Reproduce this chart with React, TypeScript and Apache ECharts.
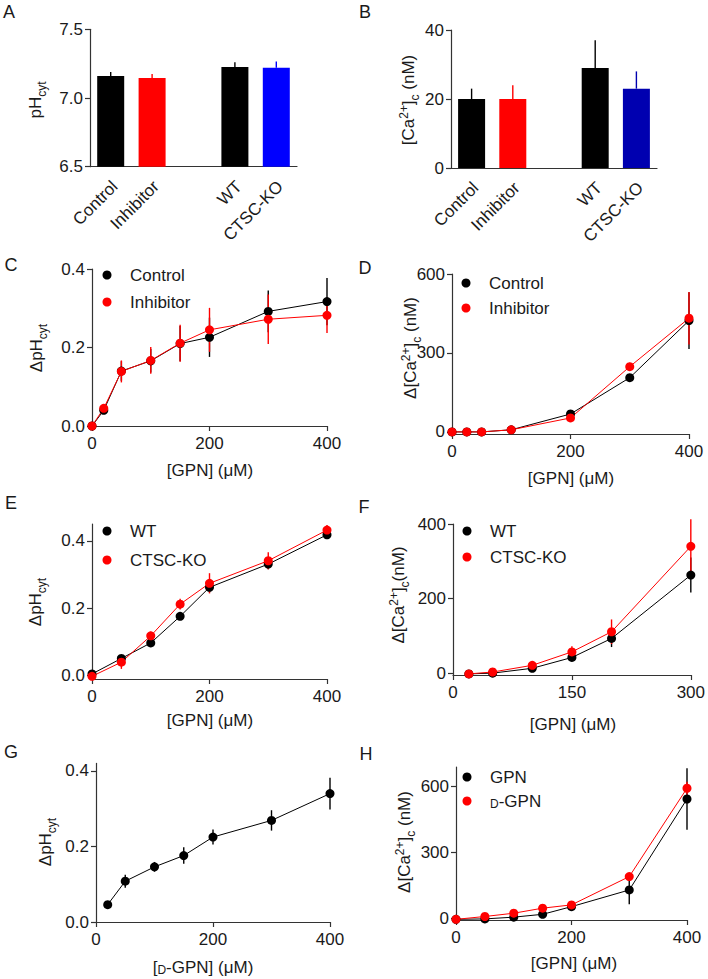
import React, { useEffect, useRef } from 'react';
import * as echarts from 'echarts';

// ---------------- data ----------------
// Panels A & B (bar charts)
const barCategories = ['Control', 'Inhibitor', '', 'WT', 'CTSC-KO'];
const phMean = [7.16, 7.145, null, 7.225, 7.22];
const phSem = [0.03, 0.03, null, 0.035, 0.045];
const caMean = [20, 20, null, 29, 23];
const caSem = [3, 4, null, 8, 5];
const phTicks = [6.5, 7.0, 7.5];
const caTicks = [0, 20, 40];

// Panel C
const gpnC = [0, 20, 50, 100, 150, 200, 300, 400];
const cControl = [0, 0.04, 0.14, 0.166, 0.21, 0.226, 0.292, 0.317];
const cControlSem = [0, 0.008, 0.025, 0.03, 0.045, 0.05, 0.053, 0.06];
const cInhibitor = [0, 0.045, 0.139, 0.167, 0.211, 0.245, 0.272, 0.282];
const cInhibitorSem = [0, 0.006, 0.028, 0.034, 0.047, 0.056, 0.063, 0.045];

// Panel D
const gpnD = [0, 25, 50, 100, 200, 300, 400];
const dControl = [0, 0, 0, 8, 68, 206, 423];
const dControlSem = [0, 0, 0, 3, 8, 10, 108];
const dInhibitor = [0, 0, 0, 8, 53, 248, 432];
const dInhibitorSem = [0, 0, 0, 3, 8, 15, 100];

// Panel E
const gpnE = [0, 50, 100, 150, 200, 300, 400];
const eWT = [0.005, 0.051, 0.097, 0.176, 0.262, 0.331, 0.418];
const eWTSem = [0.005, 0.01, 0.01, 0.01, 0.015, 0.015, 0.012];
const eKO = [-0.002, 0.04, 0.118, 0.212, 0.274, 0.341, 0.432];
const eKOSem = [0.005, 0.02, 0.012, 0.016, 0.03, 0.025, 0.015];

// Panel F
const gpnF = [20, 50, 100, 150, 200, 300];
const fWT = [-2, 0, 13, 42, 93, 263];
const fWTSem = [2, 3, 5, 8, 23, 47];
const fKO = [-2, 3, 21, 57, 111, 340];
const fKOSem = [2, 4, 6, 15, 33, 73];

// Panel G
const dgpnG = [20, 50, 100, 150, 200, 300, 400];
const gDGPN = [0.046, 0.108, 0.146, 0.176, 0.225, 0.269, 0.34];
const gDGPNSem = [0.005, 0.017, 0.013, 0.022, 0.02, 0.027, 0.042];

// Panel H
const gpnH = [0, 50, 100, 150, 200, 300, 400];
const hGPN = [-5, -3, 5, 18, 53, 129, 544];
const hGPNSem = [3, 5, 5, 8, 10, 65, 140];
const hDGPN = [-5, 8, 23, 46, 61, 190, 593];
const hDGPNSem = [3, 5, 6, 8, 10, 15, 30];

// tick values
const ph01Ticks = [0, 0.2, 0.4];
const ca600Ticks = [0, 300, 600];
const ca400Ticks = [0, 200, 400];

// ---------------- styles ----------------
const FONT = '"Liberation Sans", Arial, Helvetica, sans-serif';
const INK = '#1a1a1a';
const AXIS = '#333333';
const RED = '#ff0000';
const BLACK = '#000000';
const BLUE_A = '#0000ff';
const BLUE_B = '#0000b0';
const barColorsA = [BLACK, RED, BLACK, BLACK, BLUE_A];
const barColorsB = [BLACK, RED, BLACK, BLACK, BLUE_B];

const axisLine = { show: true, onZero: false, lineStyle: { color: AXIS, width: 1.2 } };
const labelStyle = { color: INK, fontSize: 17, fontFamily: FONT };

function tick(vals?: number[]) {
  const t: any = { show: true, inside: false, length: 5, lineStyle: { color: AXIS, width: 1.2 } };
  if (vals) t.customValues = vals;
  return t;
}

function valueX(gi: number, min: number, max: number, interval: number) {
  return {
    gridIndex: gi, type: 'value', min, max, interval,
    axisLine, axisTick: tick(), splitLine: { show: false },
    axisLabel: { ...labelStyle, margin: 9 },
  };
}

function valueY(gi: number, min: number, max: number, ticks: number[], dec: number) {
  return {
    gridIndex: gi, type: 'value', min, max,
    axisLine, axisTick: tick(ticks), splitLine: { show: false },
    axisLabel: { ...labelStyle, margin: 7, customValues: ticks, formatter: (v: number) => v.toFixed(dec) },
  };
}

function catX(gi: number) {
  return {
    gridIndex: gi, type: 'category', data: barCategories,
    axisLine, axisTick: { show: false }, splitLine: { show: false },
    axisLabel: { show: false },
  };
}

function errSeries(gi: number, xs: number[], ys: number[], sem: number[], color: string) {
  return {
    type: 'custom', xAxisIndex: gi, yAxisIndex: gi, silent: true, z: 2,
    data: xs.map((x, i) => [x, ys[i], sem[i]]),
    encode: { x: 0, y: 1 },
    renderItem: (_p: any, api: any) => {
      const x = api.value(0), y = api.value(1), e = api.value(2);
      const a = api.coord([x, y - e]);
      const b = api.coord([x, y + e]);
      return { type: 'line', shape: { x1: a[0], y1: a[1], x2: b[0], y2: b[1] }, style: { stroke: color, lineWidth: 1.4 } };
    },
  };
}

function lineSeries(gi: number, name: string, xs: number[], ys: number[], color: string) {
  return {
    type: 'line', name, xAxisIndex: gi, yAxisIndex: gi, z: 2,
    data: xs.map((x, i) => [x, ys[i]]),
    symbol: 'circle', symbolSize: 9, showSymbol: true,
    itemStyle: { color }, lineStyle: { color, width: 1 },
    emphasis: { disabled: true },
  };
}

function barSeries(gi: number, means: (number | null)[], colors: string[]) {
  return {
    type: 'bar', xAxisIndex: gi, yAxisIndex: gi, barWidth: 27, clip: true, silent: true,
    data: means.map((v, i) => (v == null ? '-' : { value: v, itemStyle: { color: colors[i] } })),
  };
}

function barErr(gi: number, means: (number | null)[], sem: (number | null)[], colors: string[]) {
  const pts: any[] = [];
  means.forEach((v, i) => { if (v != null) pts.push([i, v, sem[i], i]); });
  return {
    type: 'custom', xAxisIndex: gi, yAxisIndex: gi, silent: true, z: 3,
    data: pts, encode: { x: 0, y: 1 },
    renderItem: (_p: any, api: any) => {
      const x = api.value(0), y = api.value(1), e = api.value(2), ci = api.value(3);
      const a = api.coord([x, y]);
      const b = api.coord([x, y + e]);
      return { type: 'line', shape: { x1: a[0], y1: a[1], x2: b[0], y2: b[1] }, style: { stroke: colors[ci], lineWidth: 1.4 } };
    },
  };
}

const rich: any = {
  m: { fontSize: 17, fontFamily: FONT, fill: INK, color: INK, verticalAlign: 'bottom', padding: [0, 0, 4, 0] },
  s: { fontSize: 12, fontFamily: FONT, fill: INK, color: INK, verticalAlign: 'bottom' },
  p: { fontSize: 12, fontFamily: FONT, fill: INK, color: INK, verticalAlign: 'bottom', padding: [0, 0, 11, 0] },
  n: { fontSize: 17, fontFamily: FONT, fill: INK, color: INK, verticalAlign: 'bottom' },
  sc: { fontSize: 12, fontFamily: FONT, fill: INK, color: INK, verticalAlign: 'bottom' },
};

function txt(text: string, x: number, y: number, rotate = false, size = 17) {
  return {
    type: 'text', x, y, rotation: rotate ? Math.PI / 2 : 0, silent: true,
    style: { text, rich, fill: INK, fontSize: size, fontFamily: FONT, align: 'center', verticalAlign: 'middle' },
  };
}

// rotated (45°) category labels for a bar panel, placed from the grid geometry
function catLabels(grid: any) {
  const slot = grid.width / barCategories.length;
  const axisY = grid.top + grid.height;
  return barCategories
    .map((c, i) => ({ c, i }))
    .filter((d) => d.c !== '')
    .map((d) => ({
      type: 'text', silent: true,
      x: grid.left + slot * (d.i + 0.5) - 2, y: axisY + 11, rotation: Math.PI / 4,
      style: { text: d.c, fill: INK, fontSize: 17, fontFamily: FONT, align: 'right', verticalAlign: 'top' },
    }));
}

function legend(names: string[], circleX: number, circleY: number, gap: number) {
  return {
    data: names, left: circleX - 4.5, top: circleY - 8.5, orient: 'vertical', itemGap: gap, padding: 0,
    icon: 'circle', itemWidth: 9, itemHeight: 9, selectedMode: false,
    textStyle: { color: INK, fontSize: 17, fontFamily: FONT, rich, padding: [0, 0, 0, 13.5] },
    formatter: (n: string) => (n === 'D-GPN' ? '{sc|D}{n|-GPN}' : n),
  };
}

function buildOption(): any {
  const grid = [
    { left: 90, top: 29.3, width: 207, height: 137.4 },
    { left: 451, top: 30, width: 206, height: 138 },
    { left: 92, top: 269, width: 235, height: 157 },
    { left: 452, top: 274, width: 237, height: 160 },
    { left: 92, top: 524, width: 235, height: 155 },
    { left: 453, top: 524, width: 238, height: 151 },
    { left: 96, top: 763.4, width: 234, height: 158.6 },
    { left: 456, top: 767, width: 231, height: 153 },
  ];
  const xAxis = [
    catX(0), catX(1),
    valueX(2, 0, 400, 200), valueX(3, 0, 400, 200),
    valueX(4, 0, 400, 200), valueX(5, 0, 300, 150),
    valueX(6, 0, 400, 200), valueX(7, 0, 400, 200),
  ];
  const yAxis = [
    { ...valueY(0, 6.5, 7.5, phTicks, 1), startValue: 6.5 },
    valueY(1, 0, 40, caTicks, 0),
    valueY(2, 0, 0.4, ph01Ticks, 1),
    valueY(3, -8, 600, ca600Ticks, 0),
    valueY(4, -0.01, 0.45, ph01Ticks, 1),
    valueY(5, -5, 400, ca400Ticks, 0),
    valueY(6, 0, 0.42, ph01Ticks, 1),
    valueY(7, -8, 690, ca600Ticks, 0),
  ];
  const series = [
    barSeries(0, phMean, barColorsA), barErr(0, phMean, phSem, barColorsA),
    barSeries(1, caMean, barColorsB), barErr(1, caMean, caSem, barColorsB),
    errSeries(2, gpnC, cControl, cControlSem, BLACK), lineSeries(2, 'Control', gpnC, cControl, BLACK),
    errSeries(2, gpnC, cInhibitor, cInhibitorSem, RED), lineSeries(2, 'Inhibitor', gpnC, cInhibitor, RED),
    errSeries(3, gpnD, dControl, dControlSem, BLACK), lineSeries(3, 'Control', gpnD, dControl, BLACK),
    errSeries(3, gpnD, dInhibitor, dInhibitorSem, RED), lineSeries(3, 'Inhibitor', gpnD, dInhibitor, RED),
    errSeries(4, gpnE, eWT, eWTSem, BLACK), lineSeries(4, 'WT', gpnE, eWT, BLACK),
    errSeries(4, gpnE, eKO, eKOSem, RED), lineSeries(4, 'CTSC-KO', gpnE, eKO, RED),
    errSeries(5, gpnF, fWT, fWTSem, BLACK), lineSeries(5, 'WT', gpnF, fWT, BLACK),
    errSeries(5, gpnF, fKO, fKOSem, RED), lineSeries(5, 'CTSC-KO', gpnF, fKO, RED),
    errSeries(6, dgpnG, gDGPN, gDGPNSem, BLACK), lineSeries(6, 'D-GPN only', dgpnG, gDGPN, BLACK),
    errSeries(7, gpnH, hGPN, hGPNSem, BLACK), lineSeries(7, 'GPN', gpnH, hGPN, BLACK),
    errSeries(7, gpnH, hDGPN, hDGPNSem, RED), lineSeries(7, 'D-GPN', gpnH, hDGPN, RED),
  ];
  const legendList = [
    legend(['Control', 'Inhibitor'], 107, 275, 10),
    legend(['Control', 'Inhibitor'], 466, 283, 8),
    legend(['WT', 'CTSC-KO'], 107, 531, 12),
    legend(['WT', 'CTSC-KO'], 467, 531, 9),
    legend(['GPN', 'D-GPN'], 467, 777, 7),
  ];
  const phName = '{m|pH}{s|cyt}';
  const dphName = '{m|ΔpH}{s|cyt}';
  const caName = '{m|[Ca}{p|2+}{m|]}{s|c}{m| (nM)}';
  const dcaName = '{m|Δ[Ca}{p|2+}{m|]}{s|c}{m| (nM)}';
  const dcaNameF = '{m|Δ[Ca}{p|2+}{m|]}{s|c}{m|(nM)}';
  const gpnName = '{n|[GPN] (μM)}';
  const dgpnName = '{n|[}{sc|D}{n|-GPN] (μM)}';
  const graphic = [
    txt('A', 9, 12, false, 18), txt('B', 365, 12, false, 18), txt('C', 11, 265, false, 18), txt('D', 365, 268, false, 18),
    txt('E', 11, 503, false, 18), txt('F', 364, 507, false, 18), txt('G', 11, 752, false, 18), txt('H', 366, 754, false, 18),
    txt(phName, 37, 100, true), txt(caName, 409, 100, true),
    txt(dphName, 38, 348, true), txt(dcaName, 411, 348, true),
    txt(dphName, 37, 602, true), txt(dcaNameF, 399, 595, true),
    txt(dphName, 47, 842, true), txt(dcaName, 405, 842, true),
    txt(gpnName, 210, 470), txt(gpnName, 571, 478),
    txt(gpnName, 210, 720), txt(gpnName, 573, 724),
    txt(dgpnName, 203, 967), txt(gpnName, 574, 963),
    ...catLabels(grid[0]),
    ...catLabels(grid[1]),
  ];
  return {
    animation: false,
    backgroundColor: '#ffffff',
    textStyle: { fontFamily: FONT },
    grid, xAxis, yAxis, series, legend: legendList, graphic,
  };
}

export default function App() {
  const ref = useRef<HTMLDivElement>(null);
  useEffect(() => {
    if (!ref.current) return;
    const chart = echarts.init(ref.current, undefined, { renderer: 'svg' });
    chart.setOption(buildOption());
    return () => chart.dispose();
  }, []);
  return (
    <div
      ref={ref}
      style={{ position: 'absolute', left: 0, top: 0, width: 708, height: 979, background: '#fff' }}
    />
  );
}
